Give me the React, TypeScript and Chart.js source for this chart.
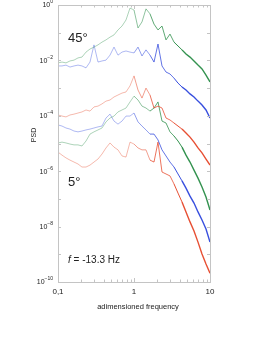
import React, { useEffect, useRef } from "react";
import { Chart, registerables } from "chart.js";

Chart.register(...registerables);

// adimensioned frequency (x)
const freq = [
  0.1, 0.1129, 0.1274, 0.1438, 0.1624, 0.1833, 0.2069, 0.2336, 0.2637, 0.2976,
  0.336, 0.3793, 0.4281, 0.4833, 0.5456, 0.6158, 0.6952, 0.7848, 0.8859, 1.0,
  1.129, 1.274, 1.438, 1.624, 1.833, 2.069, 2.336, 2.637, 2.976, 3.36,
  3.793, 4.281, 4.833, 5.456, 6.158, 6.952, 7.848, 8.859, 10,
];

// log10(PSD) of each curve, top to bottom
const green45 = [
  -2.09, -2.06, -2.09, -2.02, -1.99, -1.91, -1.88, -1.7, -1.59, -1.52,
  -1.44, -1.34, -1.26, -1.16, -1.08, -0.9, -0.76, -0.54, -0.11, -0.18,
  -0.83, -0.61, -0.14, -0.32, -0.69, -0.9, -0.76, -1.26, -1.05, -1.34,
  -1.48, -1.62, -1.77, -1.88, -2.02, -2.17, -2.31, -2.53, -2.78,
];
const blue45 = [
  -2.2, -2.2, -2.17, -2.24, -2.2, -2.17, -2.2, -2.27, -2.06, -1.44,
  -2.06, -2.02, -1.99, -1.81, -1.52, -1.81, -1.7, -1.66, -1.7, -1.73,
  -1.52, -1.84, -1.62, -1.81, -2.06, -1.41, -2.2, -2.42, -2.49, -2.64,
  -2.82, -2.96, -3.07, -3.21, -3.32, -3.47, -3.61, -3.79, -4.08,
];
const red3 = [
  -3.97, -4.01, -4.04, -3.97, -3.94, -3.9, -3.86, -3.79, -3.83, -3.68,
  -3.65, -3.57, -3.47, -3.43, -3.32, -3.25, -3.18, -3.14, -2.92, -2.56,
  -3.07, -3.36, -3.0, -3.25, -3.72, -3.65, -3.72, -4.08, -4.15, -4.26,
  -4.37, -4.48, -4.62, -4.77, -4.95, -5.16, -5.34, -5.56, -5.78,
];
const green4 = [
  -4.98, -4.95, -4.98, -5.02, -5.05, -5.05, -5.09, -4.91, -4.66, -4.58,
  -4.51, -4.44, -4.22, -4.08, -4.01, -3.86, -3.79, -3.72, -3.5, -3.29,
  -3.43, -3.65, -3.72, -3.83, -3.72, -3.5, -4.19, -4.26, -4.58, -4.73,
  -4.91, -5.13, -5.42, -5.67, -5.96, -6.25, -6.57, -6.93, -7.4,
];
const blue5 = [
  -4.33, -4.37, -4.44, -4.48, -4.55, -4.58, -4.55, -4.51, -4.48, -4.44,
  -4.4, -4.37, -4.08, -3.94, -4.19, -4.3, -4.19, -4.01, -4.01, -3.9,
  -4.22, -4.37, -4.51, -4.66, -4.66, -4.87, -5.23, -5.45, -5.67, -5.85,
  -6.1, -6.35, -6.61, -6.9, -7.15, -7.47, -7.76, -8.09, -8.56,
];
const red5deg = [
  -5.31, -5.42, -5.52, -5.6, -5.67, -5.74, -5.85, -5.85, -5.78, -5.67,
  -5.56, -5.38, -5.16, -4.98, -5.13, -5.23, -5.45, -5.49, -4.95, -5.02,
  -5.16, -5.23, -5.23, -5.6, -5.67, -4.95, -6.03, -6.1, -6.17, -6.46,
  -6.79, -7.11, -7.47, -7.83, -8.16, -8.56, -8.99, -9.35, -9.68,
];

const xTickLabels = [
  { v: 0.1, t: "0,1" },
  { v: 1, t: "1" },
  { v: 10, t: "10" },
];
const yTickExponents = [0, -2, -4, -6, -8, -10];

const GREEN = [40, 140, 70];
const BLUE = [45, 70, 220];
const RED = [230, 70, 40];

const toPts = (arr: number[]) => freq.map((f, i) => ({ x: f, y: Math.pow(10, arr[i]) }));

const FONT = "Liberation Sans, Arial, sans-serif";

const decor = {
  id: "decor",
  afterDraw(chart: any) {
    const { ctx, chartArea: a } = chart;
    const xs = chart.scales.x;
    const ys = chart.scales.y;
    ctx.save();
    ctx.strokeStyle = "#c4c4c4";
    ctx.lineWidth = 1;
    ctx.strokeRect(a.left + 0.5, a.top + 0.5, a.right - a.left, a.bottom - a.top);
    ctx.beginPath();
    for (let e = 0; e >= -10; e--) {
      const y = Math.round(ys.getPixelForValue(Math.pow(10, e))) + 0.5;
      ctx.moveTo(a.left, y);
      ctx.lineTo(a.left + 3, y);
      ctx.moveTo(a.right, y);
      ctx.lineTo(a.right - 3, y);
    }
    for (let d = 0.1; d < 10; d *= 10) {
      for (let k = 1; k <= 10; k++) {
        const v = d * k;
        const x = Math.round(xs.getPixelForValue(v)) + 0.5;
        const len = k === 1 || k === 10 ? 4 : 2.5;
        ctx.moveTo(x, a.bottom);
        ctx.lineTo(x, a.bottom - len);
        ctx.moveTo(x, a.top);
        ctx.lineTo(x, a.top + len);
      }
    }
    ctx.stroke();

    ctx.fillStyle = "#222";
    ctx.textBaseline = "middle";
    for (const e of yTickExponents) {
      const y = ys.getPixelForValue(Math.pow(10, e));
      const exp = String(e).replace("-", "\u2212");
      ctx.font = `5px ${FONT}`;
      const ew = ctx.measureText(exp).width;
      ctx.textAlign = "left";
      const expX = 53 - ew;
      ctx.fillText(exp, expX, y - 3);
      ctx.font = `7px ${FONT}`;
      ctx.textAlign = "right";
      ctx.fillText("10", expX, y + 0.5);
    }
    ctx.font = `8px ${FONT}`;
    ctx.textAlign = "center";
    ctx.textBaseline = "middle";
    for (const t of xTickLabels) {
      ctx.fillText(t.t, xs.getPixelForValue(t.v), a.bottom + 10);
    }
    ctx.font = `7.5px ${FONT}`;
    ctx.fillText("adimensioned frequency", (a.left + a.right) / 2 + 4, a.bottom + 25);
    ctx.save();
    ctx.translate(34, 135);
    ctx.rotate(-Math.PI / 2);
    ctx.font = `7px ${FONT}`;
    ctx.fillText("PSD", 0, 0);
    ctx.restore();
    ctx.textAlign = "left";
    ctx.font = `13px ${FONT}`;
    ctx.fillText("45°", 68, 38);
    ctx.fillText("5°", 68, 182);
    ctx.font = `italic 10px ${FONT}`;
    ctx.fillText("f", 68, 260);
    const fw = ctx.measureText("f").width;
    ctx.font = `10px ${FONT}`;
    ctx.fillText(" = -13.3 Hz", 68 + fw, 260);
    ctx.restore();
  },
};

export default function App() {
  const ref = useRef<HTMLCanvasElement>(null);
  useEffect(() => {
    if (!ref.current) return;
    const mk = (arr: number[], c: number[]) => ({
      data: toPts(arr),
      borderColor: `rgba(${c[0]},${c[1]},${c[2]},0.6)`,
      borderWidth: 0.7,
      pointRadius: 0,
      fill: false,
      tension: 0,
      segment: {
        borderColor: (s: any) => {
          const x = s.p0.parsed.x;
          const al = x < 1 ? 0.55 : x < 3 ? 0.75 : 0.95;
          return `rgba(${c[0]},${c[1]},${c[2]},${al})`;
        },
        borderWidth: (s: any) => {
          const x = s.p0.parsed.x;
          return x < 1.5 ? 0.7 : x < 4 ? 1 : 1.4;
        },
      },
    });
    const chart = new Chart(ref.current, {
      type: "line",
      data: {
        datasets: [
          mk(green45, GREEN),
          mk(blue45, BLUE),
          mk(red3, RED),
          mk(green4, GREEN),
          mk(blue5, BLUE),
          mk(red5deg, RED),
        ],
      },
      options: {
        responsive: false,
        animation: false,
        devicePixelRatio: 1,
        parsing: false,
        layout: { padding: { left: 58, right: 63, top: 5, bottom: 71 } },
        plugins: { legend: { display: false }, tooltip: { enabled: false } },
        scales: {
          x: { type: "logarithmic", min: 0.1, max: 10, display: false },
          y: { type: "logarithmic", min: 1e-10, max: 1, display: false },
        },
      },
      plugins: [decor],
    });
    return () => chart.destroy();
  }, []);
  return (
    <div style={{ position: "absolute", left: 0, top: 0, width: 273, height: 353, background: "#fff" }}>
      <canvas ref={ref} width={273} height={353} />
    </div>
  );
}
